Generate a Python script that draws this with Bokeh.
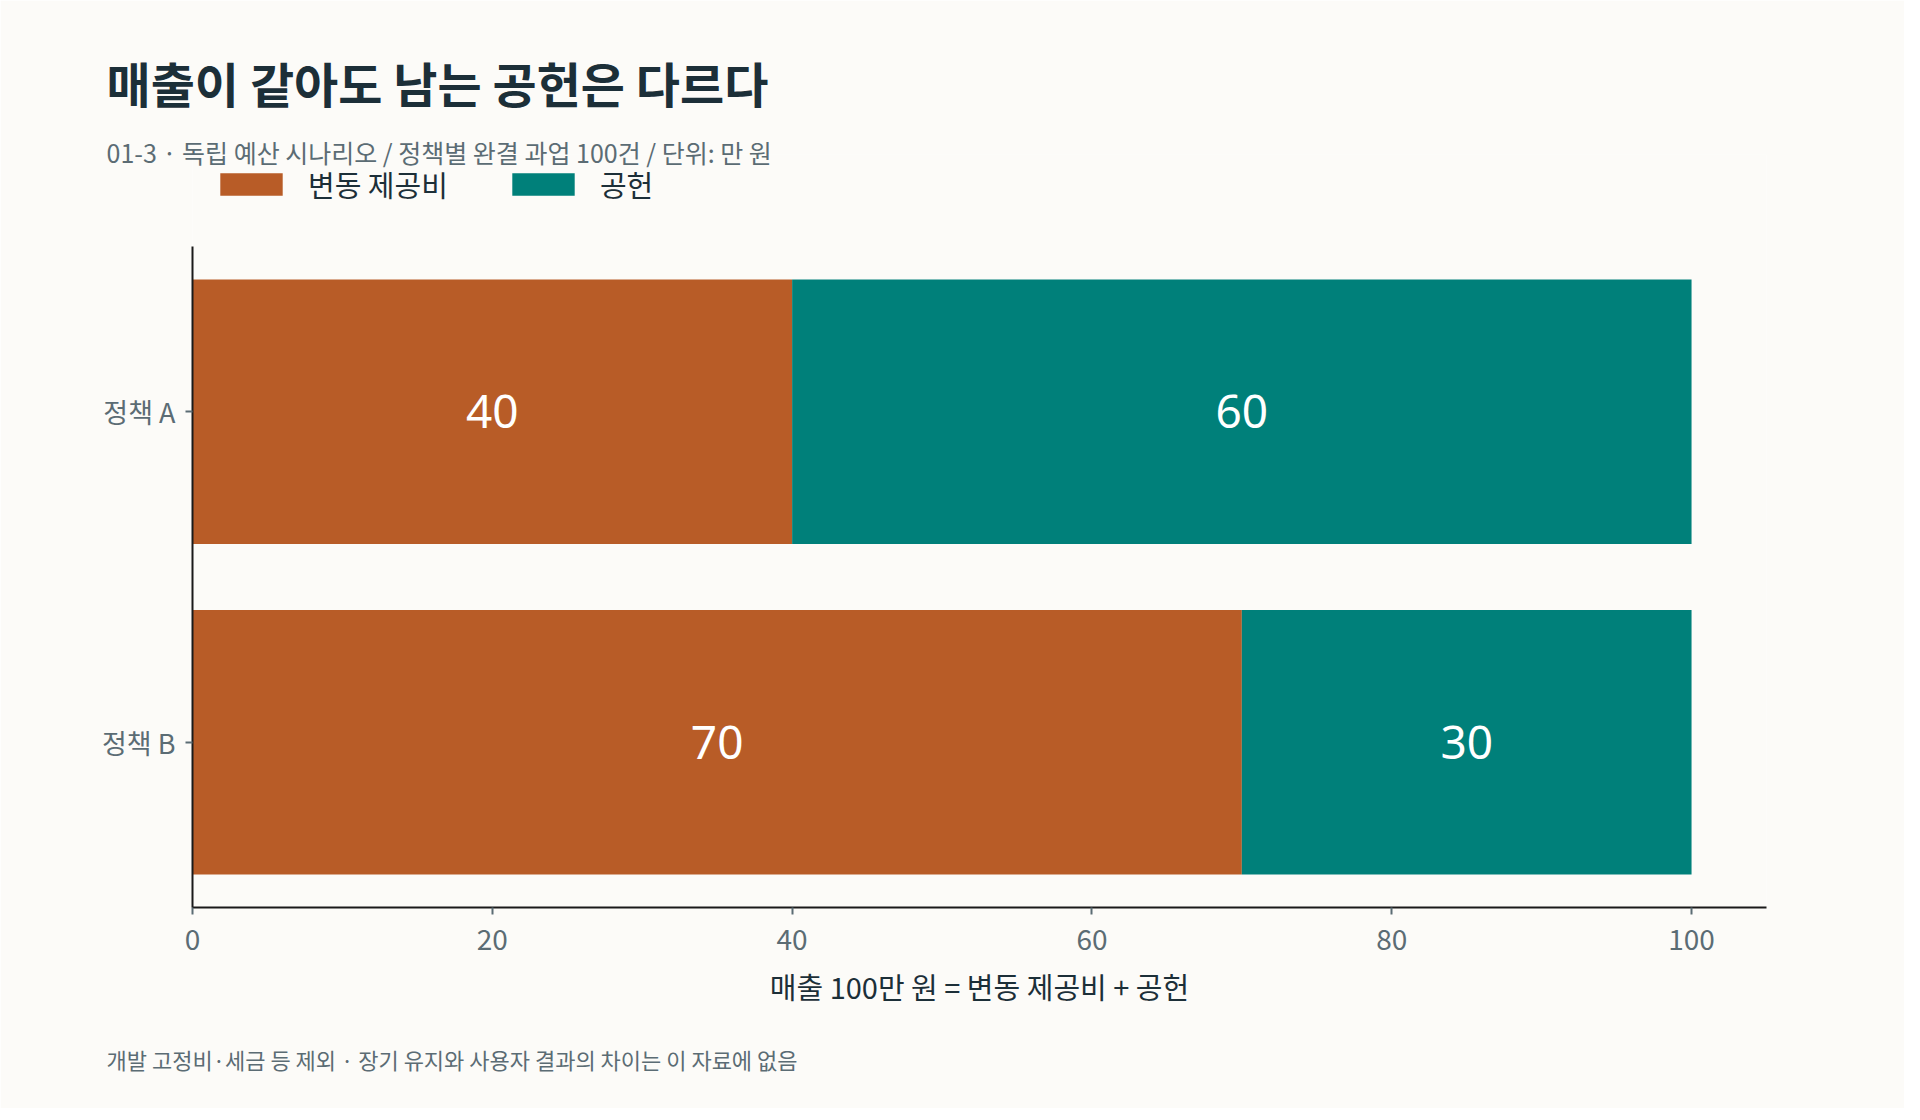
from bokeh.plotting import figure
from bokeh.models import Title, Legend, LegendItem, FixedTicker, Range1d, ColumnDataSource
from bokeh.core.properties import value
from bokeh.embed import file_html
from bokeh.resources import INLINE

# data
policies = ["정책 B", "정책 A"]          # bottom -> top
policy_pos = [0.5, 1.5]
variable_cost = [70, 40]
contribution = [30, 60]
x_ticks = [0, 20, 40, 60, 80, 100]

title_text = "매출이 같아도 남는 공헌은 다르다"
subtitle_text = "01-3 · 독립 예산 시나리오 / 정책별 완결 과업 100건 / 단위: 만 원"
x_label_text = "매출 100만 원 = 변동 제공비 + 공헌"
footnote_text = "개발 고정비·세금 등 제외 · 장기 유지와 사용자 결과의 차이는 이 자료에 없음"
series_names = ["변동 제공비", "공헌"]

KR = "Noto Sans CJK KR"
BG = "#fcfbf8"
ORANGE = "#b85c27"
TEAL = "#00807a"
DARK = "#1c2f38"
GREY = "#5b6c74"

# layout: the frame reaches up to the legend row, the axis line stops at the bars
W, H = 1904, 1108
FRAME_TOP, FRAME_BOTTOM = 154, 907
BAR_AREA = 661                      # px height covered by the two category slots
y_end = 2 * (FRAME_BOTTOM - FRAME_TOP) / BAR_AREA

source = ColumnDataSource(data=dict(
    pos=policy_pos,
    cost=variable_cost,
    contrib=contribution,
))

p = figure(
    x_range=Range1d(0, 105),
    y_range=Range1d(0, y_end),
    width=W,
    height=H,
    output_backend="svg",
    toolbar_location=None,
    min_border_left=192,
    min_border_right=W - 1766,
    min_border_top=FRAME_TOP,
    min_border_bottom=H - FRAME_BOTTOM,
)
p.background_fill_color = BG
p.border_fill_color = BG
p.outline_line_color = None
p.grid.visible = False

# -----------------------------
# stacked bars
# -----------------------------
renderers = p.hbar_stack(
    ["cost", "contrib"],
    y="pos",
    height=0.8,
    color=[ORANGE, TEAL],
    line_color=None,
    source=source,
)

# value labels in the middle of each segment
lbl_y = policy_pos + policy_pos
lbl_x = [c / 2 for c in variable_cost] + [c + v / 2 for c, v in zip(variable_cost, contribution)]
lbl_t = [str(c) for c in variable_cost] + [str(v) for v in contribution]
p.text(
    x=lbl_x, y=lbl_y, text=lbl_t,
    text_align="center", text_baseline="middle",
    text_color="white", text_font_size="46px",
    text_font=value("Noto Sans"),
)

# -----------------------------
# axes
# -----------------------------
p.xaxis.ticker = FixedTicker(ticks=x_ticks)
p.xaxis.axis_label = x_label_text
p.xaxis.axis_label_text_font = KR
p.xaxis.axis_label_text_font_size = "29px"
p.xaxis.axis_label_text_font_style = "normal"
p.xaxis.axis_label_text_color = DARK
p.xaxis.axis_label_standoff = 12
p.xaxis.minor_tick_line_color = None

p.yaxis.ticker = FixedTicker(ticks=policy_pos)
p.yaxis.major_label_overrides = dict(zip(policy_pos, policies))
p.yaxis.bounds = (0, 2)
p.yaxis.minor_tick_line_color = None

for ax in (p.xaxis[0], p.yaxis[0]):
    ax.axis_line_color = "#1a1a1a"
    ax.axis_line_width = 2
    ax.major_tick_line_color = GREY
    ax.major_tick_line_width = 2
    ax.major_tick_out = 7
    ax.major_tick_in = 0
    ax.major_label_text_font = KR
    ax.major_label_text_font_size = "28px"
    ax.major_label_text_color = GREY

p.xaxis.major_label_standoff = 14
p.yaxis.major_label_standoff = 10
p.yaxis.major_label_text_font_size = "27px"

# -----------------------------
# legend, inside the top of the frame
# (bar swatches are drawn inset by 10%, hence the larger glyph box)
# -----------------------------
legend = Legend(
    items=[LegendItem(label=n, renderers=[r]) for n, r in zip(series_names, renderers)],
    orientation="horizontal",
    location=(20, 702),
    glyph_width=78,
    glyph_height=28,
    label_standoff=18,
    spacing=56,
    padding=0,
    margin=0,
    border_line_color=None,
    background_fill_alpha=0,
    label_text_font=KR,
    label_text_font_size="29px",
    label_text_color=DARK,
)
p.add_layout(legend)

# -----------------------------
# subtitle, title, footnote
# -----------------------------
p.add_layout(Title(text=subtitle_text, align="left", offset=-86, standoff=-30,
                   text_font=KR, text_font_size="25px", text_font_style="normal",
                   text_color=GREY), "above")
p.add_layout(Title(text=title_text, align="left", offset=-86, standoff=60,
                   text_font=KR, text_font_size="48px", text_font_style="bold",
                   text_color=DARK), "above")
p.add_layout(Title(text=footnote_text, align="left", offset=-86, standoff=63,
                   text_font=KR, text_font_size="22px", text_font_style="normal",
                   text_color=GREY), "below")

open("out.html", "w").write(file_html(p, INLINE))
